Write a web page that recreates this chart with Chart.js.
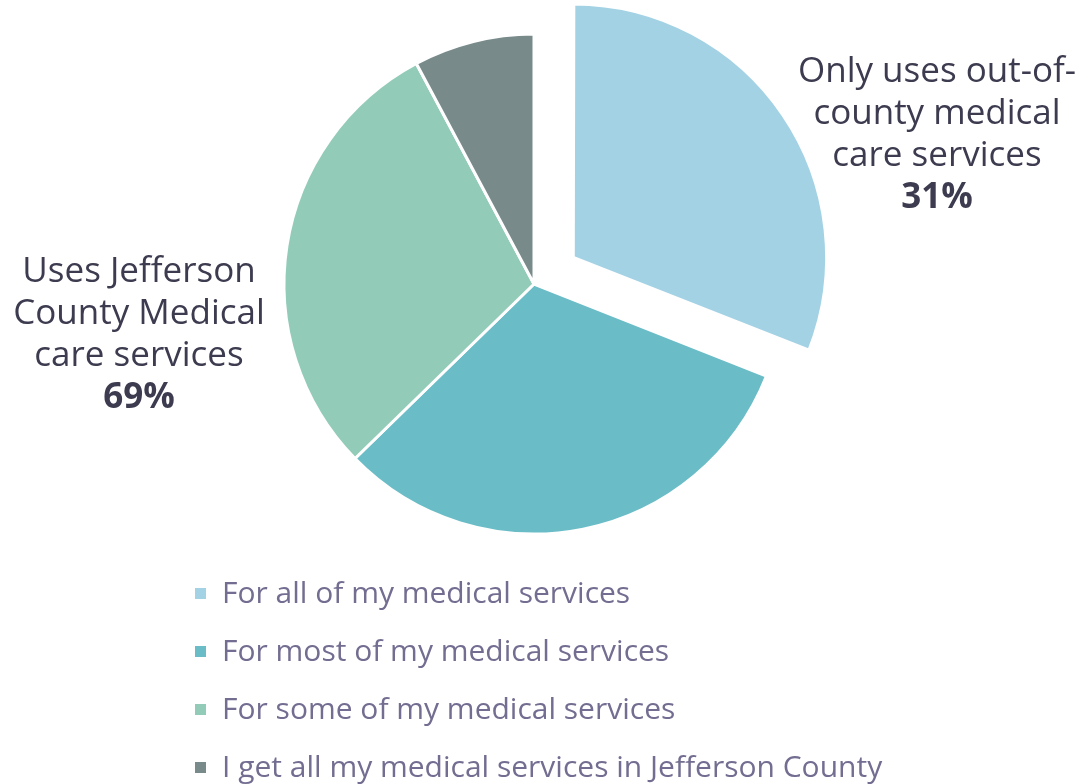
<!DOCTYPE html>
<html>
<head>
<meta charset="utf-8">
<script src="https://cdn.jsdelivr.net/npm/chart.js@4.4.0/dist/chart.umd.min.js"></script>
<style>
  html, body { margin: 0; padding: 0; background: #fff; }
  #wrap { width: 1083px; height: 784px; }
</style>
</head>
<body>
<div id="wrap"><canvas id="medChart" width="1083" height="784"></canvas></div>
<script>
// slice data, clockwise from 12 o'clock
const categories = [
    'For all of my medical services',
    'For most of my medical services',
    'For some of my medical services',
    'I get all my medical services in Jefferson County'
];
const shares = [31, 31.7, 29.5, 7.8];
const sliceColors = ['#A3D2E4', '#6ABDC7', '#93CBB9', '#798A8B'];

// the two group call-outs
const groupLabels = [
    ['Only uses out-of-', 'county medical', 'care services'],
    ['Uses Jefferson', 'County Medical', 'care services']
];
const groupShares = [31, 69];

const labelFont = '"Open Sans", Lato, sans-serif';

const calloutPlugin = {
    id: 'callouts',
    afterDraw(chart) {
        const ctx = chart.ctx;
        ctx.save();
        ctx.fillStyle = '#3C3B4F';
        ctx.textAlign = 'center';
        ctx.textBaseline = 'alphabetic';
        const spots = [{ x: 937, y: 82 }, { x: 139, y: 282 }];
        groupLabels.forEach(function(lines, i) {
            ctx.font = '35px ' + labelFont;
            lines.forEach(function(line, j) {
                ctx.fillText(line, spots[i].x, spots[i].y + j * 42);
            });
            ctx.font = 'bold 35px ' + labelFont;
            ctx.fillText(groupShares[i] + '%', spots[i].x, spots[i].y + lines.length * 42);
        });

        // legend, one item per row
        ctx.textAlign = 'left';
        ctx.font = '30px ' + labelFont;
        categories.forEach(function(cat, i) {
            const base = 603 + i * 58;
            ctx.fillStyle = sliceColors[i];
            ctx.fillRect(195, base - 15, 11, 11);
            ctx.fillStyle = '#736E91';
            ctx.fillText(cat, 222, base);
        });
        ctx.restore();
    }
};

const config = {
    type: 'pie',
    data: {
        labels: categories,
        datasets: [{
            data: shares,
            backgroundColor: sliceColors,
            borderColor: '#ffffff',
            borderWidth: 3,
            offset: [190, 0, 0, 0],
            hoverOffset: 0
        }]
    },
    options: {
        responsive: false,
        animation: false,
        radius: 250,
        layout: {
            padding: { left: 0, right: 15, top: 0, bottom: 216 }
        },
        plugins: {
            legend: { display: false },
            tooltip: { enabled: false }
        }
    },
    plugins: [calloutPlugin]
};

const ctx = document.getElementById('medChart').getContext('2d');
new Chart(ctx, config);
</script>
</body>
</html>
